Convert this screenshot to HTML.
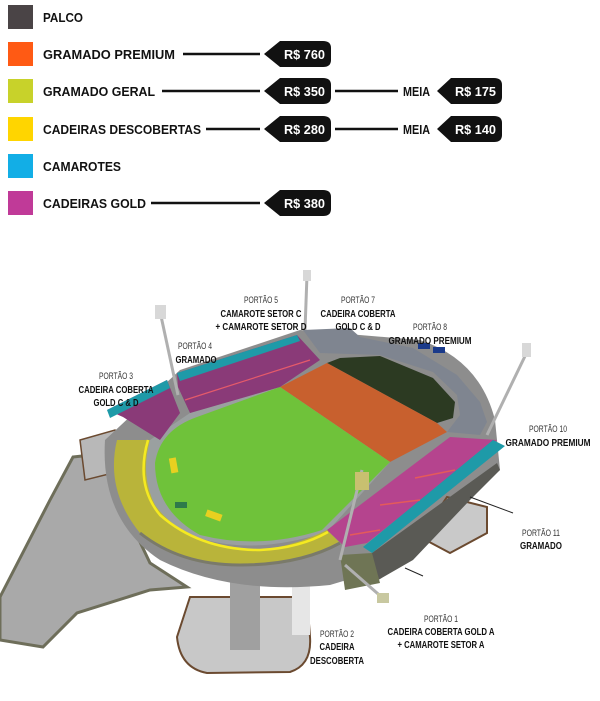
<!DOCTYPE html>
<html><head><meta charset="utf-8"><style>
html,body{margin:0;padding:0;background:#fff;}
svg{display:block;}
.lg{font-family:"Liberation Sans",sans-serif;font-weight:bold;font-size:13px;fill:#111;}
.bd{font-family:"Liberation Sans",sans-serif;font-weight:bold;font-size:13px;fill:#fff;}
.p{font-family:"Liberation Sans",sans-serif;font-size:9px;fill:#333;text-anchor:middle;}
.b{font-family:"Liberation Sans",sans-serif;font-weight:bold;font-size:10px;fill:#111;text-anchor:middle;}
</style></head><body>
<svg width="600" height="701" viewBox="0 0 600 701" xmlns="http://www.w3.org/2000/svg">
<!-- legend -->
<rect x="8" y="5" width="25" height="24" fill="#4a4446"/>
<rect x="8" y="42" width="25" height="24" fill="#ff5a14"/>
<rect x="8" y="79" width="25" height="24" fill="#c8d22a"/>
<rect x="8" y="117" width="25" height="24" fill="#ffd500"/>
<rect x="8" y="154" width="25" height="24" fill="#12aee6"/>
<rect x="8" y="191" width="25" height="24" fill="#c03a98"/>
<text class="lg" x="43" y="22" textLength="40" lengthAdjust="spacingAndGlyphs">PALCO</text>
<text class="lg" x="43" y="59" textLength="132" lengthAdjust="spacingAndGlyphs">GRAMADO PREMIUM</text>
<text class="lg" x="43" y="96" textLength="112" lengthAdjust="spacingAndGlyphs">GRAMADO GERAL</text>
<text class="lg" x="43" y="134" textLength="158" lengthAdjust="spacingAndGlyphs">CADEIRAS DESCOBERTAS</text>
<text class="lg" x="43" y="171" textLength="78" lengthAdjust="spacingAndGlyphs">CAMAROTES</text>
<text class="lg" x="43" y="208" textLength="103" lengthAdjust="spacingAndGlyphs">CADEIRAS GOLD</text>
<g stroke="#111" stroke-width="2.5">
<line x1="183" y1="54" x2="260" y2="54"/>
<line x1="162" y1="91" x2="260" y2="91"/>
<line x1="206" y1="129" x2="260" y2="129"/>
<line x1="151" y1="203" x2="260" y2="203"/>
<line x1="335" y1="91" x2="398" y2="91"/>
<line x1="335" y1="129" x2="398" y2="129"/>
</g>
<g fill="#111">
<path d="M264,54 L280,41 H323 Q331,41 331,48 V60 Q331,67 323,67 H280 Z"/>
<path d="M264,91 L280,78 H323 Q331,78 331,85 V97 Q331,104 323,104 H280 Z"/>
<path d="M264,129 L280,116 H323 Q331,116 331,123 V135 Q331,142 323,142 H280 Z"/>
<path d="M264,203 L280,190 H323 Q331,190 331,197 V209 Q331,216 323,216 H280 Z"/>
<path d="M437,91 L451,78 H494 Q502,78 502,85 V97 Q502,104 494,104 H451 Z"/>
<path d="M437,129 L451,116 H494 Q502,116 502,123 V135 Q502,142 494,142 H451 Z"/>
</g>
<text class="bd" x="284" y="59" textLength="41" lengthAdjust="spacingAndGlyphs">R$ 760</text>
<text class="bd" x="284" y="96" textLength="41" lengthAdjust="spacingAndGlyphs">R$ 350</text>
<text class="bd" x="284" y="134" textLength="41" lengthAdjust="spacingAndGlyphs">R$ 280</text>
<text class="bd" x="284" y="208" textLength="41" lengthAdjust="spacingAndGlyphs">R$ 380</text>
<text class="bd" x="455" y="96" textLength="41" lengthAdjust="spacingAndGlyphs">R$ 175</text>
<text class="bd" x="455" y="134" textLength="41" lengthAdjust="spacingAndGlyphs">R$ 140</text>
<text class="lg" x="403" y="96" font-size="11" textLength="27" lengthAdjust="spacingAndGlyphs">MEIA</text>
<text class="lg" x="403" y="134" font-size="11" textLength="27" lengthAdjust="spacingAndGlyphs">MEIA</text>

<!-- stadium -->
<polygon points="73,457 110,453 120,500 150,563 187,587 150,590 77,613 43,647 0,640 0,597 50,500" fill="#a9a9a9" stroke="#6e6e5a" stroke-width="3"/>
<path d="M190,597 L177,637 Q180,668 207,673 L290,672 Q312,665 310,637 L307,597 Z" fill="#c8c8c8" stroke="#6b4a30" stroke-width="2"/>
<rect x="230" y="577" width="30" height="73" fill="#a0a0a0"/>
<rect x="292" y="585" width="18" height="50" fill="#e6e6e6"/>
<polygon points="80,440 115,430 125,470 85,480" fill="#b8b8b8" stroke="#6b4a30" stroke-width="1.5"/>
<path d="M105,440 Q100,520 160,560 Q230,595 330,585 L380,570 L500,470 L495,420 Q480,360 420,340 L300,330 L180,370 Z" fill="#8d8d8d"/>
<polygon points="447,497 487,507 487,533 450,553 420,537" fill="#c9c9c9" stroke="#6b4a30" stroke-width="2"/>
<polygon points="372,553 497,463 500,470 470,500 413,560 373,583 350,575" fill="#5a5a55"/>
<polygon points="340,555 372,553 380,583 345,590" fill="#6f7555"/>
<polygon points="303,330 350,328 360,337 413,348 457,375 480,402 487,422 480,435 447,432 460,415 457,395 433,372 380,355 320,353" fill="#7f8590"/>
<polygon points="327,363 340,358 380,356 433,378 455,402 453,418 437,423" fill="#2c3a22"/>
<polygon points="280,387 327,363 437,423 447,432 390,462" fill="#c8602e"/>
<path d="M150,440 Q125,500 180,530 Q240,560 327,532 L390,462 L280,387 L190,413 Z" fill="#9aa0a0"/>
<path d="M155,463 Q160,430 197,417 L280,387 L390,462 L322,530 Q260,550 200,535 Q155,510 155,463 Z" fill="#6fc23a"/>
<rect x="170" y="458" width="7" height="15" fill="#e8d020" transform="rotate(-10 173 465)"/>
<rect x="206" y="512" width="16" height="7" fill="#e8d020" transform="rotate(20 214 515)"/>
<rect x="175" y="502" width="12" height="6" fill="#2e7a4a"/>
<path d="M117,440 Q105,490 140,533 Q180,565 240,565 Q300,565 340,543 L327,530 Q280,553 240,549 Q180,540 155,505 Q140,475 150,440 Z" fill="#b9b43a"/>
<path d="M148,440 Q135,485 160,515 Q200,550 260,550 Q300,548 328,532" fill="none" stroke="#f5ea20" stroke-width="2.5"/>
<path d="M140,533 Q180,565 240,565 Q300,565 340,543" fill="none" stroke="#7a7a6a" stroke-width="3"/>
<polygon points="327,530 450,437 497,440 367,543 345,547" fill="#b5448e"/>
<polygon points="493,440 505,446 372,553 363,547" fill="#1e9aa8"/>
<g stroke="#e55a5a" stroke-width="1.5"><line x1="350" y1="535" x2="380" y2="530"/><line x1="380" y1="505" x2="420" y2="500"/><line x1="415" y1="478" x2="455" y2="470"/></g>
<polygon points="177,373 297,335 320,360 280,387 190,413 178,387" fill="#8a3a78"/>
<polygon points="177,373 297,335 300,341 180,381" fill="#1e9aa8"/>
<line x1="185" y1="400" x2="310" y2="360" stroke="#e55a6a" stroke-width="1.2"/>
<polygon points="107,410 167,380 180,413 160,440 123,417" fill="#8a3a78"/>
<polygon points="107,410 167,380 170,388 110,418" fill="#1e9aa8"/>
<g stroke="#b0b0b0" stroke-width="3">
<line x1="161" y1="316" x2="178" y2="395"/>
<line x1="307" y1="275" x2="305" y2="330"/>
<line x1="527" y1="352" x2="487" y2="435"/>
<line x1="362" y1="470" x2="340" y2="560"/>
<line x1="345" y1="565" x2="385" y2="600"/>
</g>
<rect x="155" y="305" width="11" height="14" fill="#d8d8d8"/>
<rect x="303" y="270" width="8" height="11" fill="#d8d8d8"/>
<rect x="522" y="343" width="9" height="14" fill="#d8d8d8"/>
<rect x="355" y="472" width="14" height="18" fill="#c8c070"/>
<rect x="377" y="593" width="12" height="10" fill="#c8c8a0"/>
<rect x="418" y="343" width="12" height="6" fill="#1a3a8a"/>
<rect x="433" y="347" width="12" height="6" fill="#1a3a8a"/>
<g stroke="#222" stroke-width="1"><line x1="470" y1="497" x2="513" y2="513"/><line x1="405" y1="568" x2="423" y2="576"/></g>

<!-- labels -->
<text class="p" x="261" y="303" textLength="34" lengthAdjust="spacingAndGlyphs">PORTÃO 5</text>
<text class="b" x="261" y="317" textLength="81" lengthAdjust="spacingAndGlyphs">CAMAROTE SETOR C</text>
<text class="b" x="261" y="330" textLength="91" lengthAdjust="spacingAndGlyphs">+ CAMAROTE SETOR D</text>
<text class="p" x="358" y="303" textLength="34" lengthAdjust="spacingAndGlyphs">PORTÃO 7</text>
<text class="b" x="358" y="317" textLength="75" lengthAdjust="spacingAndGlyphs">CADEIRA COBERTA</text>
<text class="b" x="358" y="330" textLength="45" lengthAdjust="spacingAndGlyphs">GOLD C &amp; D</text>
<text class="p" x="430" y="330" textLength="34" lengthAdjust="spacingAndGlyphs">PORTÃO 8</text>
<text class="b" x="430" y="344" textLength="83" lengthAdjust="spacingAndGlyphs">GRAMADO PREMIUM</text>
<text class="p" x="195" y="349" textLength="34" lengthAdjust="spacingAndGlyphs">PORTÃO 4</text>
<text class="b" x="196" y="363" textLength="41" lengthAdjust="spacingAndGlyphs">GRAMADO</text>
<text class="p" x="116" y="379" textLength="34" lengthAdjust="spacingAndGlyphs">PORTÃO 3</text>
<text class="b" x="116" y="393" textLength="75" lengthAdjust="spacingAndGlyphs">CADEIRA COBERTA</text>
<text class="b" x="116" y="406" textLength="45" lengthAdjust="spacingAndGlyphs">GOLD C &amp; D</text>
<text class="p" x="548" y="432" textLength="38" lengthAdjust="spacingAndGlyphs">PORTÃO 10</text>
<text class="b" x="548" y="446" textLength="85" lengthAdjust="spacingAndGlyphs">GRAMADO PREMIUM</text>
<text class="p" x="541" y="536" textLength="38" lengthAdjust="spacingAndGlyphs">PORTÃO 11</text>
<text class="b" x="541" y="549" textLength="42" lengthAdjust="spacingAndGlyphs">GRAMADO</text>
<text class="p" x="441" y="622" textLength="34" lengthAdjust="spacingAndGlyphs">PORTÃO 1</text>
<text class="b" x="441" y="635" textLength="107" lengthAdjust="spacingAndGlyphs">CADEIRA COBERTA GOLD A</text>
<text class="b" x="441" y="648" textLength="87" lengthAdjust="spacingAndGlyphs">+ CAMAROTE SETOR A</text>
<text class="p" x="337" y="637" textLength="34" lengthAdjust="spacingAndGlyphs">PORTÃO 2</text>
<text class="b" x="337" y="650" textLength="35" lengthAdjust="spacingAndGlyphs">CADEIRA</text>
<text class="b" x="337" y="664" textLength="54" lengthAdjust="spacingAndGlyphs">DESCOBERTA</text>
</svg>
</body></html>
